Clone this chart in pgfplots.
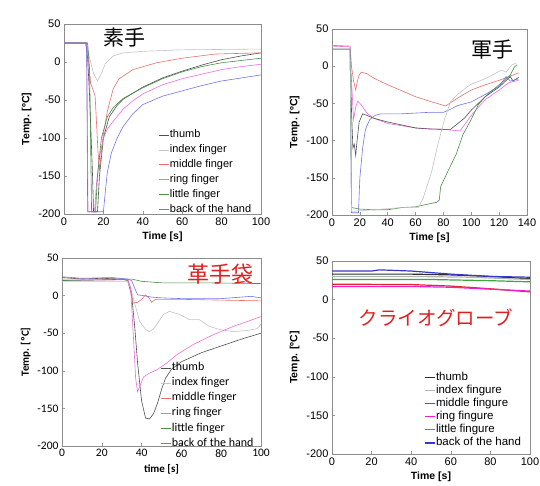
\documentclass[border=0pt]{standalone}
\usepackage{pgfplots}
\pgfplotsset{compat=1.18}
\usepackage{fontspec}
\setmainfont{Liberation Sans}
\newfontfamily\jp{Noto Sans CJK JP}
\newfontfamily\calfont{Carlito}
\definecolor{cthumb}{HTML}{505050}
\definecolor{cindex}{HTML}{C4C4C4}
\definecolor{cmid}{HTML}{E87070}
\definecolor{cring}{HTML}{EE6EE0}
\definecolor{clittle}{HTML}{4A8F4A}
\definecolor{cback}{HTML}{7474E8}
\definecolor{dthumb}{HTML}{303030}
\definecolor{dindex}{HTML}{B4B4B4}
\definecolor{dmid}{HTML}{E02828}
\definecolor{dring}{HTML}{F020D0}
\definecolor{dlittle}{HTML}{3CA83C}
\definecolor{dback}{HTML}{3838C8}
\definecolor{jred}{HTML}{E02020}
\pgfplotsset{
  panel/.style={
    scale only axis,
    axis line style={draw=gray!90},
    tick style={draw=gray!80, line width=0.5pt},
    tick align=inside, tick pos=left,
    major tick length=3pt,
    ymin=-200, ymax=50,
    ytick={-200,-150,...,50},
    /pgf/number format/assume math mode=true,
    ticklabel style={font=\fontsize{11}{12}\selectfont},
    label style={font=\bfseries\fontsize{10.5}{12}\selectfont},
    ylabel={Temp. [ºC]},
    legend cell align=left,
    legend image code/.code={\draw[#1] (0pt,0pt) -- (10pt,0pt);},
    legend style={draw=none, fill=none, font=\fontsize{11}{12}\selectfont,
      nodes={inner xsep=0.5pt, inner ysep=0pt, text height=8pt, text depth=2.5pt}},
    every axis plot/.append style={line width=0.6pt},
  }
}
\begin{document}
\begin{tikzpicture}[x=1pt,y=1pt]
\fill[white] (0pt,0pt) rectangle (540pt,486pt);
\useasboundingbox (0pt,0pt) rectangle (540pt,486pt);
% ---------------- Panel 1 ----------------
\begin{axis}[panel, at={(64pt,272pt)}, anchor=south west, width=197pt, height=190pt,
  xmin=0, xmax=100, xtick={0,20,...,100}, xlabel={Time [s]},
  legend style={at={(0.465,0.455)}, anchor=north west, row sep=4.4pt}]
\addplot[cthumb] coordinates {(0,25)(11,25)(12,5)(13,-45)(14.5,-150)(15,-197)(17,-197)(18,-150)(20,-100)(23,-72)(27,-57)(30,-49)(40,-33)(50,-21)(60,-12)(70,-4)(80,3)(90,8)(100,12)};
\addlegendentry{thumb}
\addplot[cindex] coordinates {(0,25)(11.5,25)(13,5)(15,-15)(17,-25)(19,-15)(21,-2)(25,8)(30,12)(40,14)(60,16)(100,17)};
\addlegendentry{index finger}
\addplot[cmid] coordinates {(0,25)(11.5,25)(12.5,0)(13.5,-28)(14.5,-35)(15.2,-40)(15.8,-45)(16.5,-80)(17.3,-120)(18,-143)(19,-118)(20,-95)(22,-65)(25,-35)(28,-22)(35,-10)(47,-1)(60,5)(77,10.5)(100,12)};
\addlegendentry{middle finger}
\addplot[cring] coordinates {(0,25)(11.5,25)(12.2,-197)(15.5,-197)(16.5,-160)(18,-125)(20,-100)(22,-88)(25,-78)(30,-62)(35,-51)(40,-42)(50,-30)(60,-22)(70,-16)(80,-10)(90,-6)(100,-3)};
\addlegendentry{ring finger}
\addplot[clittle] coordinates {(0,25)(12,25)(13,-10)(14,-197)(16,-197)(17,-150)(19,-100)(22,-72)(25,-60)(30,-48)(40,-34)(50,-22)(60,-13)(70,-6)(80,-1)(90,2)(100,5)};
\addlegendentry{little finger}
\addplot[cback] coordinates {(0,25)(11.5,25)(12,-197)(20,-197)(21,-170)(22,-145)(24,-120)(27,-100)(30,-85)(35,-68)(40,-56)(50,-45)(60,-38)(70,-31)(80,-25)(90,-21)(100,-17)};
\addlegendentry{back of the hand}
\end{axis}
\node[font=\jp\fontsize{21}{22}\selectfont] at (124pt,448pt) {素手};
% ---------------- Panel 2 ----------------
\begin{axis}[panel, at={(332pt,271pt)}, anchor=south west, width=195pt, height=186pt,
  xmin=0, xmax=140, xtick={0,20,...,140}, xlabel={Time [s]}]
\addplot[cmid] coordinates {(0,28)(13,27)(14,0)(15.5,-20)(17,-32)(18,-22)(19.5,-12)(21,-8)(25,-10)(30,-16)(40,-25)(50,-33)(60,-41)(70,-47)(81.6,-53.5)(90,-43)(100,-32)(110,-25)(120,-19)(134,-9)};
\addplot[cring] coordinates {(0,27)(13,26)(14,-20)(15.5,-72)(17,-55)(18.5,-47)(21,-52)(25,-63)(30,-70)(40,-77)(50,-80)(60,-83)(70,-84)(80,-85)(92,-87)(100,-66)(110,-45)(120,-32)(127,-22)(134,-19)};
\addplot[cthumb] coordinates {(0,23)(13,23)(14,-60)(15,-110)(16,-105)(17,-120)(18,-100)(19.5,-75)(22,-64)(25,-66)(30,-70)(40,-75)(50,-79)(60,-83)(70,-84.5)(85,-85)(95,-70)(100,-59)(110,-41)(120,-28)(128,-14)(130,-20)(134,-15)};
\addplot[cback] coordinates {(0,23)(13,23)(14,-197)(19,-197)(20,-150)(22,-110)(24,-85)(27,-72)(31,-66)(35,-64)(50,-64)(60,-63)(70,-62)(80,-62)(85,-58)(90,-53)(100,-48)(110,-38)(120,-27)(125,-14)(128,-20)(134,-17)};
\addplot[clittle] coordinates {(0,23)(13,23)(14,-190)(20,-192)(30,-193)(40,-193)(50,-190)(60,-189)(70,-185)(75,-183)(77,-180)(78,-162)(83,-142)(89,-119)(94,-92)(99,-75)(105,-52)(111,-39)(120,-25)(128,-12)(131,-1)(133,2)};
\addplot[cindex] coordinates {(0,23)(13,23)(14,-195)(30,-193)(50,-190)(62,-190)(65.5,-177)(71.5,-142)(76,-105)(81,-70)(85,-48)(89.5,-39)(99,-25)(111,-16)(121.8,-5)(125,-8)(129,1.6)(132,4)};
\end{axis}
\node[font=\jp\fontsize{21}{22}\selectfont] at (492pt,436pt) {軍手};
% ---------------- Panel 3 ----------------
\begin{axis}[panel, at={(62pt,40pt)}, anchor=south west, width=199pt, height=188pt,
  xmin=0, xmax=100, xtick={0,20,...,100}, xlabel={time [s]},
  ticklabel style={font=\calfont\fontsize{11.5}{12}\selectfont},
  label style={font=\calfont\bfseries\fontsize{11}{12}\selectfont},
  ylabel={Temp. [ºC]},
  legend style={at={(0.48,0.455)}, anchor=north west, row sep=4.6pt, font=\calfont\fontsize{12}{13}\selectfont}]
\addplot[cthumb] coordinates {(0,24)(10,22)(20,23)(30,22)(33,20)(35,0)(36.5,-40)(38,-90)(40,-140)(42,-163)(44,-164)(46,-157)(48,-143)(50,-125)(52,-110)(55,-98)(60,-88)(70,-76)(80,-67)(90,-58)(100,-50)};
\addlegendentry{thumb}
\addplot[cindex] coordinates {(0,19)(33,19)(35,5)(37,-15)(39,-34)(42,-45)(44,-48)(46,-44)(48,-37)(51,-25)(54,-21)(59,-25)(64,-32)(69,-32)(74,-41)(79,-45)(86,-48)(94,-46)(98,-44)(100,-38)};
\addlegendentry{index finger}
\addplot[cmid] coordinates {(0,22)(33,22)(34.5,10)(35.7,-10)(38,-9)(40,-5)(42,1)(44,-4)(45,-9)(47,-5)(50,-5)(60,-5)(80,-6)(100,-7)};
\addlegendentry{middle finger}
\addplot[cring] coordinates {(0,20)(33,21)(34.5,10)(36,-60)(37,-110)(38,-128)(39.5,-118)(41,-108)(44,-103)(47.5,-99)(52.5,-90)(57.5,-79)(66,-65)(76,-52)(86,-41)(100,-28)};
\addlegendentry{ring finger}
\addplot[clittle] coordinates {(0,20)(20,21)(35,22)(40,19)(50,17)(70,17)(100,16)};
\addlegendentry{little finger}
\addplot[cback] coordinates {(0,25)(10,23)(25,24)(33,22)(35,20)(36.5,10)(38,1)(41,0)(45,-2)(50,-3)(60,-4)(70,-4)(80,-4)(90,-2)(95,-1)(100,-3)};
\addlegendentry{back of the hand}
\end{axis}
\node[font=\jp\fontsize{22}{23}\selectfont, text=jred] at (220pt,212pt) {革手袋};
% ---------------- Panel 4 ----------------
\begin{axis}[panel, at={(332pt,32pt)}, anchor=south west, width=198pt, height=193pt,
  xmin=0, xmax=100, xtick={0,20,...,100}, xlabel={Time [s]},
  every axis plot/.append style={line width=1.2pt},
  legend style={at={(0.45,0.435)}, anchor=north west, row sep=2.6pt, font=\fontsize{11.5}{12}\selectfont}]
\addplot[dthumb] coordinates {(0,33)(20,33)(40,33)(60,32)(80,30)(100,27)};
\addlegendentry{thumb}
\addplot[dindex] coordinates {(0,30)(40,30)(70,29)(100,26)};
\addlegendentry{index fingure}
\addplot[dmid] coordinates {(0,20)(40,19.5)(60,17.5)(80,14)(100,10)};
\addlegendentry{middle fingure}
\addplot[dring] coordinates {(0,17)(40,17)(60,16)(80,13.5)(100,11)};
\addlegendentry{ring fingure}
\addplot[dlittle] coordinates {(0,26)(50,26)(80,24.5)(100,23)};
\addlegendentry{little fingure}
\addplot[dback] coordinates {(0,37)(20,37)(24,38.5)(40,37)(60,33)(80,30)(100,29)};
\addlegendentry{back of the hand}
\end{axis}
\node[font=\jp\fontsize{19.5}{21}\selectfont, text=jred] at (436pt,168pt) {クライオグローブ};
\end{tikzpicture}
\end{document}
